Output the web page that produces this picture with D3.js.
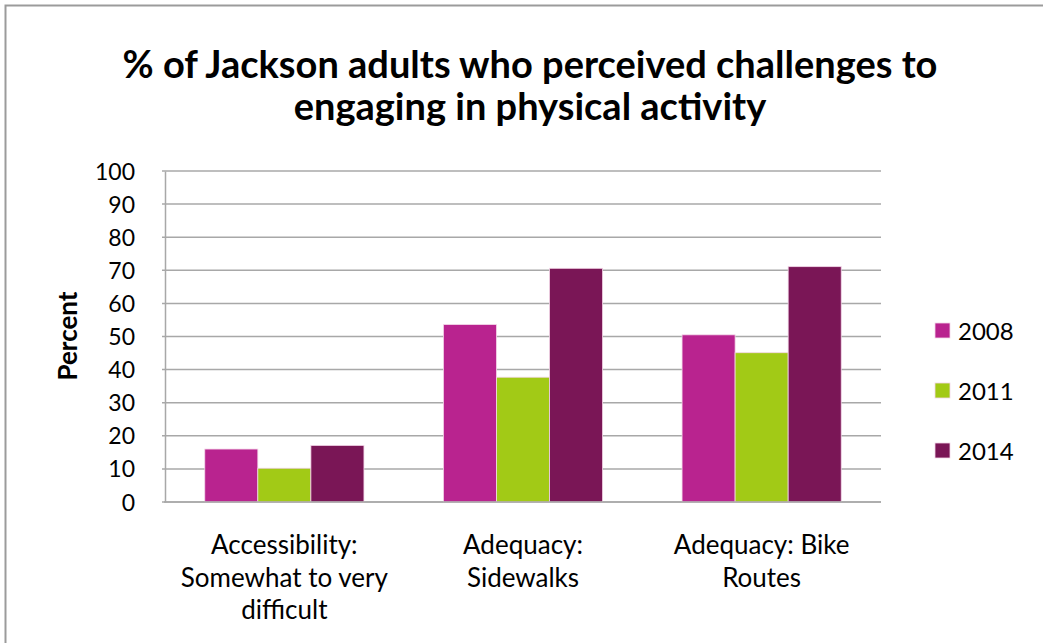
<!DOCTYPE html>
<html>
<head>
<meta charset="utf-8">
<style>
  body { margin: 0; background: #fff; }
  svg text { font-family: Lato, "Open Sans", sans-serif; fill: #000; }
</style>
</head>
<body>
<script src="https://d3js.org/d3.v7.min.js"></script>
<script>
const categories = [
  ["Accessibility:", "Somewhat to very", "difficult"],
  ["Adequacy:", "Sidewalks"],
  ["Adequacy: Bike", "Routes"]
]
const years = ["2008", "2011", "2014"]
const values2008 = [16.0, 53.6, 50.5]
const values2011 = [10.2, 37.7, 45.1]
const values2014 = [17.1, 70.6, 71.1]
const yTicks = [0, 10, 20, 30, 40, 50, 60, 70, 80, 90, 100]
const colors = ["#B9238F", "#A2CA16", "#7A1656"]

const series = [values2008, values2011, values2014]
const w = 1043
const h = 643
const plotLeft = 165, plotRight = 881, plotTop = 171, plotBottom = 502

const svg = d3.select('body')
  .append('svg')
  .attr('width', w)
  .attr('height', h)

// outer frame
svg.append('path')
  .attr('d', 'M5.5,' + h + ' L5.5,5.5 L' + w + ',5.5')
  .attr('fill', 'none')
  .attr('stroke', '#9b9b9b')
  .attr('stroke-width', 2)

svg.append('text')
  .attr('text-anchor', 'middle')
  .attr('font-size', 38)
  .attr('font-weight', 'bold')
  .selectAll('tspan')
  .data(['% of Jackson adults who perceived challenges to', 'engaging in physical activity'])
  .enter()
  .append('tspan')
  .attr('x', 530)
  .attr('y', (d, i) => 78 + i * 42)
  .text(d => d)

const x0 = d3.scaleBand()
  .domain(d3.range(categories.length))
  .range([plotLeft, plotRight])
  .paddingInner(0.333)
  .paddingOuter(0.1667)

const x1 = d3.scaleBand()
  .domain(d3.range(years.length))
  .range([0, x0.bandwidth()])

const y = d3.scaleLinear()
  .domain([0, 100])
  .range([plotBottom, plotTop])

// gridlines
svg.append('g')
  .selectAll('line')
  .data(yTicks)
  .enter()
  .append('line')
  .attr('x1', plotLeft - 3)
  .attr('x2', plotRight)
  .attr('y1', d => y(d))
  .attr('y2', d => y(d))
  .attr('stroke', '#a8a8a8')
  .attr('stroke-width', 1.5)

const yAxis = d3.axisLeft(y).tickValues(yTicks).tickSize(0).tickPadding(30)
svg.append('g')
  .attr('transform', 'translate(' + plotLeft + ',0)')
  .call(yAxis)
  .call(g => g.select('.domain').attr('stroke', '#a8a8a8').attr('stroke-width', 1.5))
  .call(g => g.selectAll('text').attr('font-size', 23).attr('font-family', 'Lato, sans-serif').attr('fill', '#000').attr('dy', '0.35em'))

// bars
series.forEach((vals, si) => {
  svg.append('g')
    .selectAll('rect')
    .data(vals)
    .enter()
    .append('rect')
    .attr('x', (d, i) => x0(i) + x1(si))
    .attr('y', d => y(d))
    .attr('width', x1.bandwidth())
    .attr('height', d => plotBottom - y(d))
    .attr('fill', colors[si])
    .attr('stroke', '#f3d6e8')
    .attr('stroke-width', 0.8)
})

// x axis line on top
svg.append('line')
  .attr('x1', plotLeft - 1)
  .attr('x2', plotRight)
  .attr('y1', plotBottom)
  .attr('y2', plotBottom)
  .attr('stroke', '#a8a8a8')
  .attr('stroke-width', 1.5)

// category labels
categories.forEach((lines, i) => {
  svg.append('text')
    .attr('text-anchor', 'middle')
    .attr('font-size', 26)
    .selectAll('tspan')
    .data(lines)
    .enter()
    .append('tspan')
    .attr('x', x0(i) + x0.bandwidth() / 2)
    .attr('y', (d, j) => 554 + j * 32.5)
    .text(d => d)
})

svg.append('text')
  .attr('transform', 'translate(77,336) rotate(-90)')
  .attr('text-anchor', 'middle')
  .attr('font-size', 26)
  .attr('font-weight', 'bold')
  .text('Percent')

// legend
const legend = svg.append('g')
  .selectAll('g')
  .data(years)
  .enter()
  .append('g')
  .attr('transform', (d, i) => 'translate(935,' + (323 + i * 60) + ')')

legend.append('rect')
  .attr('width', 15)
  .attr('height', 15)
  .attr('fill', (d, i) => colors[i])
  .attr('stroke', '#f3d6e8')
  .attr('stroke-width', 0.8)

legend.append('text')
  .attr('x', 23)
  .attr('y', 17)
  .attr('font-size', 24)
  .text(d => d)
</script>
</body>
</html>
